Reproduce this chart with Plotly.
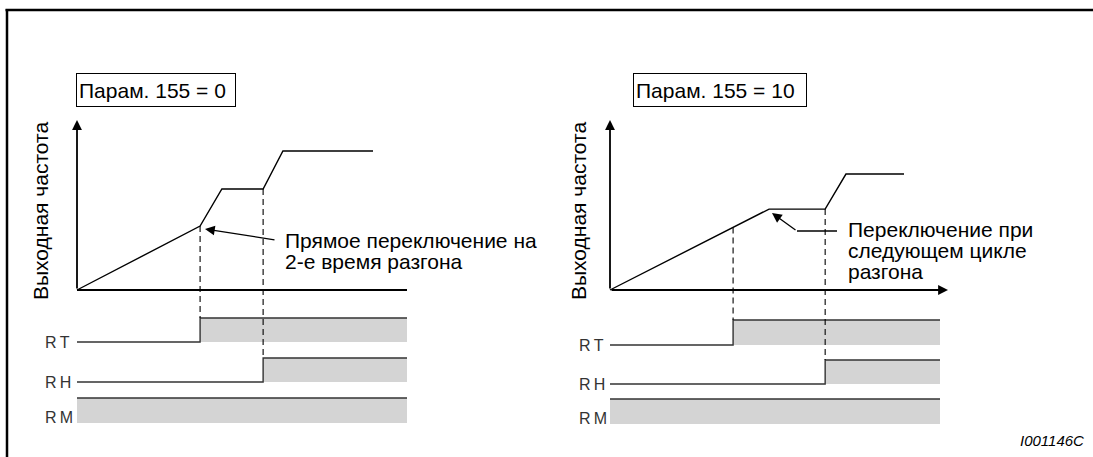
import numpy as np
import plotly.graph_objects as go

W, H = 1093, 457

# ---------------- data ----------------
# left panel  (Парам. 155 = 0)
t_left = [0, 3.73, 4.39, 5.64, 6.24, 8.97]
f_left = [0, 3.76, 5.94, 5.94, 8.18, 8.18]
switch_left = [3.73, 5.64, 0.0]          # RT, RH, RM on-times (0 = on from start)

# right panel (Парам. 155 = 10)
t_right = [0, 4.82, 6.52, 7.15, 8.91]
f_right = [0, 4.76, 4.76, 6.82, 6.82]
switch_right = [3.73, 6.52, 0.0]

signal_names = ["RT", "RH", "RM"]
signal_labels = ["R\u2009T", "R\u2009H", "R\u2009M"]
panel_titles = ["Парам. 155 = 0", "Парам. 155 = 10"]
y_title = "Выходная частота"
note_left = ["Прямое переключение на", "2-е время разгона"]
note_right = ["Переключение при", "следующем цикле", "разгона"]
doc_id = "I001146C"
t_end = 10.0
f_top = 10.0

# ---------------- layout geometry (pixels) ----------------
PX_T, PX_F = 33.0, 17.0
ORIG_Y = 290.0
ORIG_X = [77.0, 610.0]
FONT = "Liberation Sans, Arial, sans-serif"
FS = 21


def fy(py):
    return (ORIG_Y - py) / PX_F


def tx(px, panel):
    return (px - ORIG_X[panel]) / PX_T


rows_px = [
    [(342, 318), (382, 358), (423, 398)],
    [(345, 320), (384, 360), (424, 399)],
]
label_shift = [0, 0, 6]
GRAY = "#d4d4d4"
SIG = "#333333"

fig = go.Figure()
annotations = []
xrefs = ["x", "x2"]

panels = [
    (t_left, f_left, switch_left),
    (t_right, f_right, switch_right),
]

for p, (tt, ff, sw) in enumerate(panels):
    xa = xrefs[p]
    # signals
    for k, ts in enumerate(sw):
        low, high = fy(rows_px[p][k][0]), fy(rows_px[p][k][1])
        fig.add_trace(go.Scatter(
            x=[ts, t_end, t_end, ts, ts], y=[low, low, high, high, low],
            fill="toself", fillcolor=GRAY, line=dict(width=0),
            mode="lines", xaxis=xa, yaxis="y", hoverinfo="skip"))
        if ts > 0:
            xs, ys = [0, ts, ts, t_end], [low, low, high, high]
        else:
            xs, ys = [0, t_end], [high, high]
        fig.add_trace(go.Scatter(x=xs, y=ys, mode="lines",
                                 line=dict(color=SIG, width=1.4),
                                 xaxis=xa, yaxis="y", hoverinfo="skip"))
        annotations.append(dict(
            x=tx([43, 577][p], p), y=fy(rows_px[p][k][0] - label_shift[k]),
            xref=xa, yref="y", xanchor="left", yanchor="middle",
            text=signal_labels[k], showarrow=False,
            font=dict(family=FONT, size=16, color="#333333")))
        # dashed guide lines
        if ts > 0:
            fig.add_trace(go.Scatter(
                x=[ts, ts], y=[float(np.interp(ts, tt, ff)), high],
                mode="lines", line=dict(color="black", width=1.1, dash="6px,4px"),
                xaxis=xa, yaxis="y", hoverinfo="skip"))
    # frequency curve
    fig.add_trace(go.Scatter(x=tt, y=ff, mode="lines",
                             line=dict(color="black", width=1.4),
                             xaxis=xa, yaxis="y", hoverinfo="skip"))
    # y axis with arrow
    annotations.append(dict(x=0, y=f_top, ax=0, ay=0, xref=xa, yref="y",
                            axref=xa, ayref="y", showarrow=True, text="",
                            arrowhead=2, arrowsize=1.1, arrowwidth=1.8,
                            arrowcolor="black"))
    # axis title
    annotations.append(dict(x=tx([40, 578][p], p), y=fy(211), xref=xa, yref="y",
                            text=y_title, textangle=-90, showarrow=False,
                            font=dict(family=FONT, size=FS, color="black")))

# x axes
fig.add_trace(go.Scatter(x=[0, t_end], y=[0, 0], mode="lines",
                         line=dict(color="black", width=1.8),
                         xaxis="x", yaxis="y", hoverinfo="skip"))
annotations.append(dict(x=tx(948, 1), y=0, ax=0, ay=0, xref="x2", yref="y",
                        axref="x2", ayref="y", showarrow=True, text="",
                        arrowhead=2, arrowsize=1.1, arrowwidth=1.8,
                        arrowcolor="black"))

# parameter boxes
for p, (x0, x1, y0) in enumerate([(76, 236, 73), (633, 807, 73)]):
    annotations.append(dict(
        x=x0 / W, y=1 - y0 / H, xref="paper", yref="paper",
        xanchor="left", yanchor="top", text=panel_titles[p], showarrow=False,
        align="left", width=(x1 - x0) - 6, height=28, borderpad=2,
        bordercolor="black", borderwidth=1, bgcolor="white",
        font=dict(family=FONT, size=FS, color="black")))

# callout left
annotations.append(dict(x=tx(205, 0), y=fy(229), ax=tx(276, 0), ay=fy(240),
                        xref="x", yref="y", axref="x", ayref="y",
                        showarrow=True, text="", arrowhead=2, arrowsize=1.5,
                        arrowwidth=1.3, arrowcolor="black"))
for i, line in enumerate(note_left):
    annotations.append(dict(x=tx(283, 0), y=fy(240 + 21 * i), xref="x", yref="y",
                            xanchor="left", yanchor="middle", text=line,
                            showarrow=False,
                            font=dict(family=FONT, size=FS, color="black")))

# callout right (elbow)
fig.add_trace(go.Scatter(x=[tx(837, 1), tx(797, 1)], y=[fy(231), fy(231)],
                         mode="lines", line=dict(color="black", width=1.3),
                         xaxis="x2", yaxis="y", hoverinfo="skip"))
annotations.append(dict(x=tx(772, 1), y=fy(213), ax=tx(797, 1), ay=fy(231),
                        xref="x2", yref="y", axref="x2", ayref="y",
                        showarrow=True, text="", arrowhead=2, arrowsize=1.5,
                        arrowwidth=1.3, arrowcolor="black"))
for i, line in enumerate(note_right):
    annotations.append(dict(x=tx(846, 1), y=fy(229 + 21 * i), xref="x2", yref="y",
                            xanchor="left", yanchor="middle", text=line,
                            showarrow=False,
                            font=dict(family=FONT, size=FS, color="black")))

# document id
annotations.append(dict(x=1086 / W, y=1 - 440 / H, xref="paper", yref="paper",
                        xanchor="right", yanchor="middle", text="<i>" + doc_id + "</i>",
                        showarrow=False,
                        font=dict(family=FONT, size=15, color="black")))

shapes = [
    dict(type="line", xref="paper", yref="paper", x0=5.5 / W, x1=1 + 5 / W,
         y0=1 - 10 / H, y1=1 - 10 / H, line=dict(color="black", width=2.5)),
    dict(type="line", xref="paper", yref="paper", x0=7 / W, x1=7 / W, y0=1 - 9 / H,
         y1=-5 / H, line=dict(color="black", width=2.5)),
]

fig.update_layout(
    width=W, height=H, margin=dict(l=0, r=0, t=0, b=0),
    paper_bgcolor="white", plot_bgcolor="white", showlegend=False,
    xaxis=dict(range=[-ORIG_X[0] / PX_T, (W - ORIG_X[0]) / PX_T], domain=[0, 1],
               visible=False, fixedrange=True, showline=False, zeroline=False),
    xaxis2=dict(range=[-ORIG_X[1] / PX_T, (W - ORIG_X[1]) / PX_T], domain=[0, 1],
                visible=False, overlaying="x", anchor="y", fixedrange=True,
                showline=False, zeroline=False),
    yaxis=dict(range=[(ORIG_Y - H) / PX_F, ORIG_Y / PX_F], domain=[0, 1],
               visible=False, fixedrange=True, showline=False, zeroline=False),
    annotations=annotations, shapes=shapes,
)

fig.write_html(
    "out.html",
    config={"displayModeBar": False, "staticPlot": True},
    post_script=(
        "document.documentElement.style.margin='0';"
        "document.documentElement.style.overflow='hidden';"
        "document.body.style.margin='0';document.body.style.padding='0';"
        "document.body.style.overflow='hidden';"
    ),
)
